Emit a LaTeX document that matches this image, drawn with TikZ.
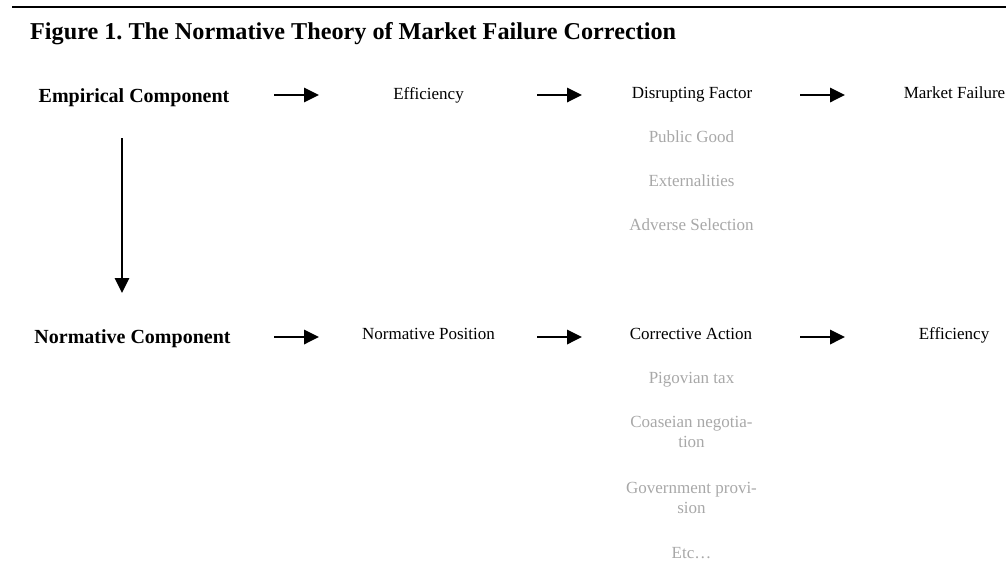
\documentclass[tikz,border=0pt]{standalone}
\usepackage{fontspec}
\setmainfont{Liberation Serif}
\usetikzlibrary{arrows.meta}
\definecolor{sub}{gray}{0.66}
\frenchspacing
\tikzset{
  x=1pt, y=-1pt,
  head/.style={font=\fontsize{20}{24}\selectfont\bfseries, inner sep=0pt, anchor=base},
  stage/.style={font=\fontsize{17}{19.5}\selectfont, inner sep=0pt, anchor=base},
  item/.style={stage, text=sub, align=center},
  flow/.style={line width=1.8pt, -{Triangle[length=15pt,width=14.5pt]}}
}
\begin{document}
\begin{tikzpicture}
\useasboundingbox (0,0) rectangle (1006,574);
% title and rule
\draw[line width=2pt] (12,7) -- (1006,7);
\node[font=\fontsize{24.2}{28}\selectfont\bfseries, inner sep=0pt, anchor=base west] (title) at (30,39)
  {Figure 1. The Normative Theory of Market Failure Correction};

% empirical row
\node[head]  (emp)  at (134,102.3) {Empirical Component};
\node[stage] (eff1) at (428.5,99.3) {Efficiency};
\node[stage] (dis)  at (692,98.3) {Disrupting Factor};
\node[stage] (mf)   at (954.5,98.3) {Market Failure};
\node[item]  (pg)   at (691.5,142.7) {Public Good};
\node[item]  (ext)  at (691.5,186.7) {Externalities};
\node[item]  (adv)  at (691.5,230.7) {Adverse Selection};

% normative row (two-line items are placed by their last baseline)
\node[head]  (nor)  at (132.5,343.3) {Normative Component};
\node[stage] (pos)  at (428.5,339.3) {Normative Position};
\node[stage] (cor)  at (691,339.3) {Corrective Action};
\node[stage] (eff2) at (954,339.3) {Efficiency};
\node[item]  (pig)  at (691.5,383.3) {Pigovian tax};
\node[item]  (coa)  at (691.5,447.3) {Coaseian negotia-\\tion};
\node[item]  (gov)  at (691.5,513.3) {Government provi-\\sion};
\node[item]  (etc)  at (691.5,558.3) {Etc\ldots};

% arrow ends
\coordinate (a1s) at (274,95);  \coordinate (a1e) at (319,95);
\coordinate (a2s) at (537,95);  \coordinate (a2e) at (582,95);
\coordinate (a3s) at (800,95);  \coordinate (a3e) at (845,95);
\coordinate (b1s) at (274,337); \coordinate (b1e) at (319,337);
\coordinate (b2s) at (537,337); \coordinate (b2e) at (582,337);
\coordinate (b3s) at (800,337); \coordinate (b3e) at (845,337);
\coordinate (vs)  at (122,138); \coordinate (ve)  at (122,293);

\draw[flow] (a1s) -- (a1e);
\draw[flow] (a2s) -- (a2e);
\draw[flow] (a3s) -- (a3e);
\draw[flow] (b1s) -- (b1e);
\draw[flow] (b2s) -- (b2e);
\draw[flow] (b3s) -- (b3e);
\draw[flow] (vs) -- (ve);
\end{tikzpicture}
\end{document}
